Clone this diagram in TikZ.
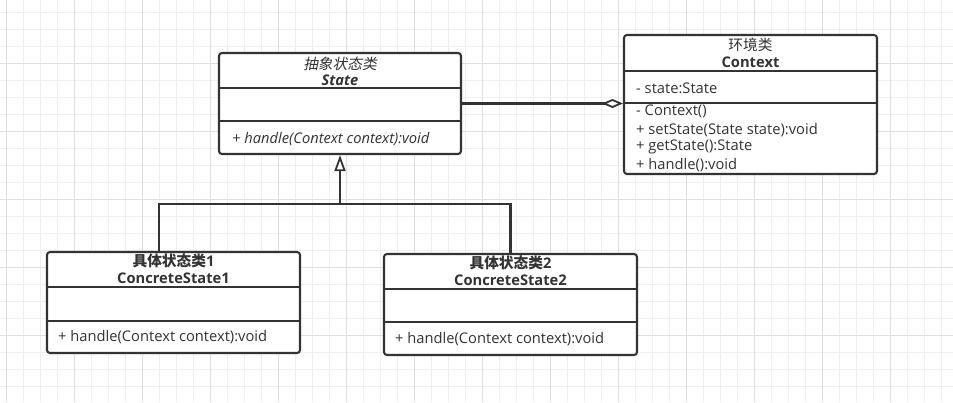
\documentclass[tikz,border=0pt]{standalone}
\usepackage{fontspec}
\setmainfont{Open Sans}
\newfontfamily\cjk{Noto Sans CJK SC}[AutoFakeSlant=0.2]
\usetikzlibrary{arrows.meta}
\definecolor{ink}{HTML}{333333}
\definecolor{gridminor}{HTML}{EFEFEF}
\definecolor{gridmajor}{HTML}{E0E0E0}
\newcommand{\fs}{\fontsize{14.7}{16}\selectfont}
\tikzset{
  classbox/.style={draw=ink, line width=2.1pt, rounded corners=3pt, fill=white, inner sep=0pt},
  sepline/.style={draw=ink, line width=2.1pt},
  title/.style={text=ink, font=\fs\bfseries, inner sep=0pt, anchor=center},
  member/.style={text=ink, font=\fs, inner sep=0pt, anchor=west},
  conn/.style={draw=ink, line width=2.1pt},
}
\begin{document}
\begin{tikzpicture}[x=1pt,y=-1pt]
\useasboundingbox (0,0) rectangle (953,402);
\fill[white] (0,0) rectangle (953,402);
% grid
\foreach \i in {0,...,56} {
  \pgfmathsetmacro{\gx}{6+17*(\i-0)}
  \draw[gridminor, line width=0.9pt] (\gx,0) -- (\gx,402);
}
\foreach \i in {-1,...,24} {
  \pgfmathsetmacro{\gy}{12.3+17*\i}
  \draw[gridminor, line width=0.9pt] (0,\gy) -- (953,\gy);
}
\foreach \i in {0,...,13} {
  \pgfmathsetmacro{\gx}{6+68*\i}
  \draw[gridmajor, line width=0.9pt] (\gx,0) -- (\gx,402);
}
\foreach \i in {-1,...,5} {
  \pgfmathsetmacro{\gy}{63+68*\i}
  \draw[gridmajor, line width=0.9pt] (0,\gy) -- (953,\gy);
}

% State (abstract)
\node[classbox, minimum width=242pt, minimum height=101pt] (State) at (340,103.5) {};
\draw[sepline] (219,88.3) -- (461,88.3);
\draw[sepline] (219,121.3) -- (461,121.3);
\node[title, font=\fs\cjk\itshape] (t1a) at (340,64) {抽象状态类};
\node[title, font=\fs\bfseries\itshape] (t1b) at (340,80) {State};
\node[member, font=\fs\itshape] (m1) at (232,139) {+ handle(Context context):void};

% Context
\node[classbox, minimum width=253pt, minimum height=139pt] (Context) at (750.5,104.5) {};
\draw[sepline] (624,71) -- (877,71);
\draw[sepline] (624,102.7) -- (877,102.7);
\node[title, font=\fs\cjk] (t2a) at (750.5,45) {环境类};
\node[title] (t2b) at (750.5,62.3) {Context};
\node[member] (a2) at (636,88.3) {- state:State};
\node[member] (m2a) at (636,111.7) {- Context()};
\node[member] (m2b) at (636,130) {+ setState(State state):void};
\node[member] (m2c) at (636,147.3) {+ getState():State};
\node[member] (m2d) at (636,165) {+ handle():void};

% ConcreteState1
\node[classbox, minimum width=253pt, minimum height=101pt] (CS1) at (173.5,302.5) {};
\draw[sepline] (47,287) -- (300,287);
\draw[sepline] (47,320.7) -- (300,320.7);
\node[title] (t3a) at (173.5,261) {{\cjk 具体状态类}1};
\node[title] (t3b) at (173.5,278.3) {ConcreteState1};
\node[member] (m3) at (58,337.3) {+ handle(Context context):void};

% ConcreteState2
\node[classbox, minimum width=253pt, minimum height=101pt] (CS2) at (510.5,304.5) {};
\draw[sepline] (384,289.3) -- (637,289.3);
\draw[sepline] (384,322.3) -- (637,322.3);
\node[title] (t4a) at (510.5,263.3) {{\cjk 具体状态类}2};
\node[title] (t4b) at (510.5,280) {ConcreteState2};
\node[member] (m4) at (395,339) {+ handle(Context context):void};

% aggregation
\draw[conn, -{Diamond[open, length=21pt, width=9pt, line width=1.8pt]}] (State.east) -- (State.east -| Context.west);

% inheritance
\coordinate (j) at (340,203.7);
\coordinate (c1) at (158.7,252);
\draw[conn] (c1) |- (j);
\draw[conn] (CS2.north) |- (j);
\draw[conn, -{Triangle[open, length=16pt, width=11pt, line width=1.8pt]}] (j) -- (State.south);
\end{tikzpicture}
\end{document}
